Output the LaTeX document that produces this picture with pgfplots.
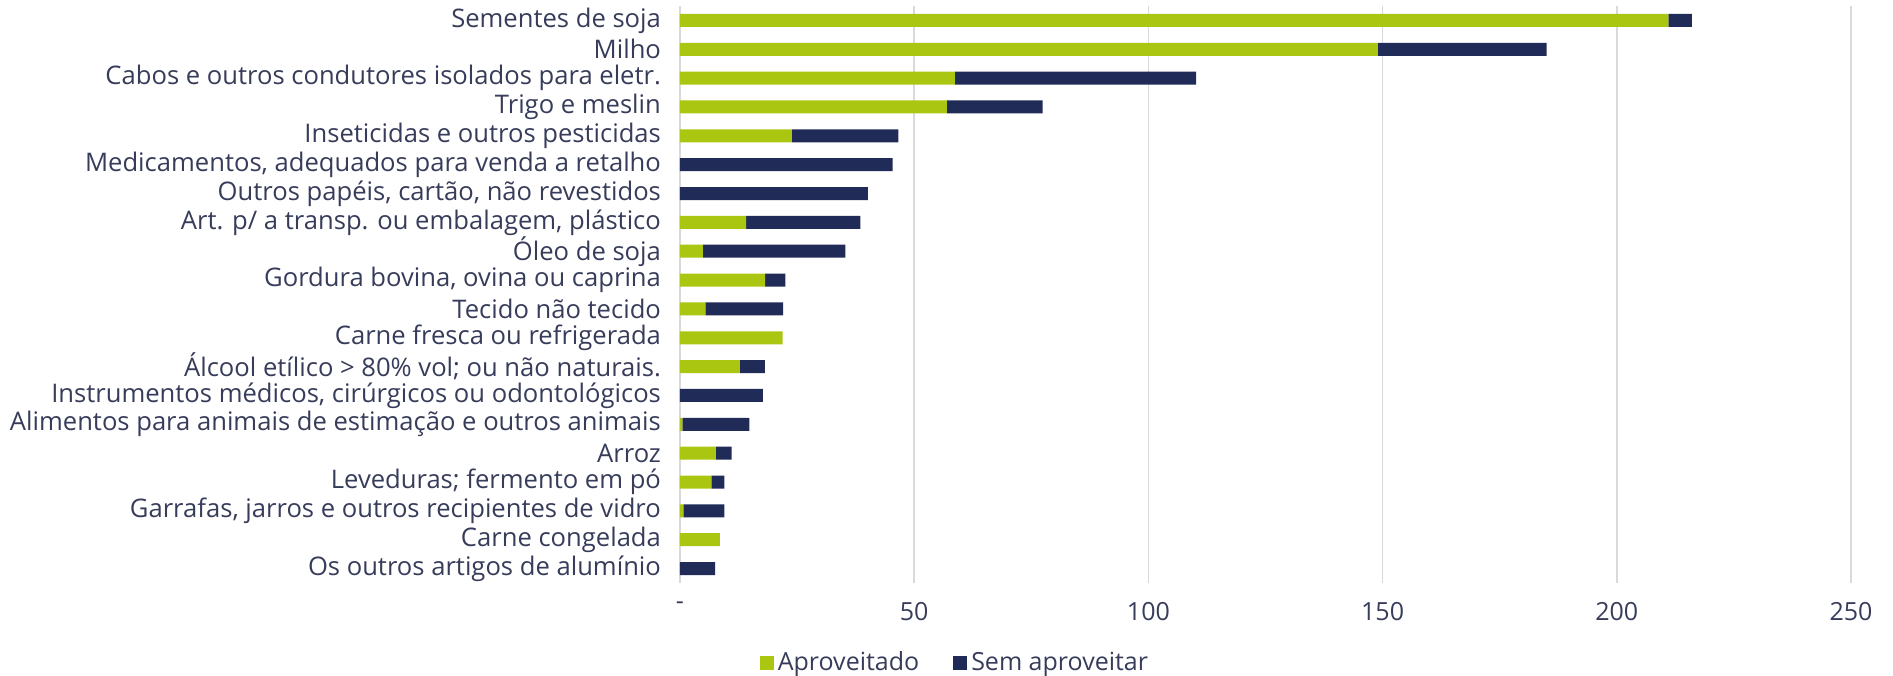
\documentclass[border=0pt]{standalone}
\usepackage{fontspec}
\setmainfont{Open Sans}
\usepackage{pgfplots}
\pgfplotsset{compat=1.18}
\definecolor{verde}{RGB}{170,198,16}
\definecolor{navy}{RGB}{32,43,87}
\definecolor{textc}{RGB}{55,60,90}
\definecolor{gridc}{RGB}{217,217,217}
\begin{document}
\begin{tikzpicture}
\begin{axis}[
  scale only axis,
  width=585.5pt, height=288.5pt,
  xbar stacked,
  bar width=6.5pt,
  y dir=reverse,
  ymin=-0.5, ymax=19.5,
  xmin=0, xmax=250,
  xtick={0,50,100,150,200,250},
  xticklabels={-,50,100,150,200,250},
  ytick={0,...,19},
  yticklabels={
    Sementes de soja,
    Milho,
    Cabos e outros condutores isolados para eletr.,
    Trigo e meslin,
    Inseticidas e outros pesticidas,
    {Medicamentos, adequados para venda a retalho},
    {Outros papéis, cartão, não revestidos},
    {Art. p/ a transp. ou embalagem, plástico},
    Óleo de soja,
    {Gordura bovina, ovina ou caprina},
    Tecido não tecido,
    Carne fresca ou refrigerada,
    {Álcool etílico > 80\% vol; ou não naturais.},
    {Instrumentos médicos, cirúrgicos ou odontológicos},
    Alimentos para animais de estimação e outros animais,
    Arroz,
    Leveduras; fermento em pó,
    {Garrafas, jarros e outros recipientes de vidro},
    Carne congelada,
    Os outros artigos de alumínio
  },
  axis line style={draw=none},
  major tick length=0pt,
  xmajorgrids,
  grid style={gridc, line width=0.8pt},
  yticklabel style={font=\fontsize{12.8}{13}\selectfont, text=textc, xshift=-6pt},
  xticklabel style={font=\fontsize{12.5}{13}\selectfont, text=textc, yshift=-6pt},
  legend style={at={(0.2348,-0.1386)}, anchor=center, draw=none, fill=none,
    legend columns=2, font=\fontsize{12.5}{13}\selectfont, text=textc,
    nodes={inner sep=1pt},
    /tikz/every odd column/.append style={column sep=1pt},
    /tikz/every even column/.append style={column sep=16pt}},
  legend image code/.code={\fill[#1] (0pt,-3.5pt) rectangle (7pt,3.5pt);},
]
\addplot[fill=verde, draw=none] coordinates {
(211,0) (149,1) (58.7,2) (57.0,3) (23.9,4) (0,5) (0,6) (14.1,7) (4.9,8) (18.2,9)
(5.4,10) (21.9,11) (12.8,12) (0,13) (0.5,14) (7.6,15) (6.7,16) (0.7,17) (8.5,18) (0,19)};
\addplot[fill=navy, draw=none] coordinates {
(5,0) (36,1) (51.5,2) (20.4,3) (22.7,4) (45.4,5) (40.1,6) (24.4,7) (30.4,8) (4.3,9)
(16.6,10) (0,11) (5.3,12) (17.7,13) (14.3,14) (3.4,15) (2.8,16) (8.8,17) (0,18) (7.5,19)};
\legend{Aproveitado, Sem aproveitar}
\end{axis}
\pgfresetboundingbox
\path[use as bounding box] (-340pt,-46pt) rectangle (606.5pt,291.5pt);
\end{tikzpicture}
\end{document}
